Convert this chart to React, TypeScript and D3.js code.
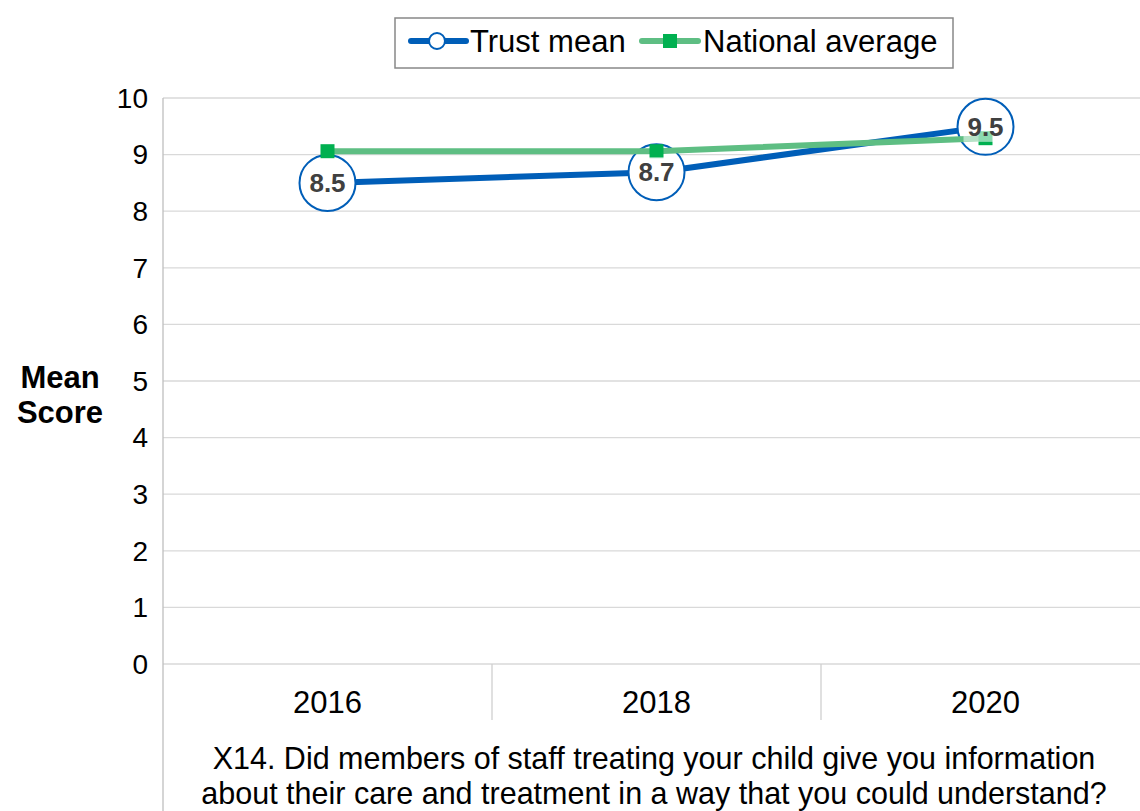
import React from 'react';
import * as d3 from 'd3';

const years = ['2016', '2018', '2020'];
const trustMean = [8.5, 8.69, 9.49];
const trustLabels = ['8.5', '8.7', '9.5'];
const nationalAvg = [9.06, 9.06, 9.29];
const yTicks = [0, 1, 2, 3, 4, 5, 6, 7, 8, 9, 10];
const titleLines = [
  'X14. Did members of staff treating your child give you information',
  'about their care and treatment in a way that you could understand?',
];

const W = 1140;
const H = 811;
const FONT = 'Liberation Sans, Arial, sans-serif';

const App: React.FC = () => {
  const left = 163;
  const right = 1150;
  const top = 98;
  const bottom = 664;

  const x = d3.scaleBand<string>().domain(years).range([left, right]);
  const y = d3.scaleLinear().domain([0, 10]).range([bottom, top]);
  const cx = (i: number) => (x(years[i]) ?? 0) + x.bandwidth() / 2;

  const line = d3.line<number>()
    .x((_, i) => cx(i))
    .y(d => y(d));

  return (
    <svg width={W} height={H} style={{ position: 'absolute', left: 0, top: 0, background: '#fff' }} fontFamily={FONT}>
      {/* gridlines */}
      {yTicks.map(t => (
        <line key={t} x1={left} x2={W} y1={y(t)} y2={y(t)} stroke="#d9d9d9" strokeWidth={1.3} />
      ))}
      {/* left axis line */}
      <line x1={left} x2={left} y1={top} y2={H} stroke="#bfbfbf" strokeWidth={1.3} />
      {/* category separators */}
      {years.slice(1).map(yr => (
        <line key={yr} x1={x(yr)} x2={x(yr)} y1={bottom} y2={720} stroke="#d0d0d0" strokeWidth={1.3} />
      ))}
      {/* y tick labels */}
      {yTicks.map(t => (
        <text key={t} x={148} y={y(t)} dy="0.35em" textAnchor="end" fontSize={28} fill="#000">{t}</text>
      ))}
      {/* x tick labels */}
      {years.map((yr, i) => (
        <text key={yr} x={cx(i)} y={702} dy="0.35em" textAnchor="middle" fontSize={31} fill="#000">{yr}</text>
      ))}
      {/* y axis title */}
      <text x={60} y={377} dy="0.35em" textAnchor="middle" fontSize={31} fontWeight="bold">Mean</text>
      <text x={60} y={412} dy="0.35em" textAnchor="middle" fontSize={31} fontWeight="bold">Score</text>
      {/* x axis title */}
      {titleLines.map((l, i) => (
        <text key={i} x={654} y={758 + i * 35} dy="0.35em" textAnchor="middle" fontSize={30.5}>{l}</text>
      ))}

      {/* trust line */}
      <path d={line(trustMean) ?? ''} fill="none" stroke="#005EB8" strokeWidth={6} />
      {/* trust marker circles (label callouts) */}
      {trustMean.map((v, i) => (
        <circle key={i} cx={cx(i)} cy={y(v)} r={28} fill="#fff" stroke="#005EB8" strokeWidth={2} />
      ))}
      {/* national line */}
      <path d={line(nationalAvg) ?? ''} fill="none" stroke="#5EBE83" strokeWidth={6} />
      {nationalAvg.map((v, i) => (
        <rect key={i} x={cx(i) - 7} y={y(v) - 7} width={14} height={14} fill="#00B050" />
      ))}
      {/* labels */}
      {trustMean.map((v, i) => (
        <g key={i}>
          <rect x={cx(i) - 22} y={y(v) - 15} width={44} height={30} fill="#fff" opacity={0.55} />
          <text x={cx(i)} y={y(v)} dy="0.35em" textAnchor="middle" fontSize={26} fontWeight="bold" fill="#404040">{trustLabels[i]}</text>
        </g>
      ))}

      {/* legend */}
      <rect x={395} y={18} width={558} height={50} fill="#fff" stroke="#888" strokeWidth={1.5} />
      <line x1={411} x2={466} y1={41} y2={41} stroke="#005EB8" strokeWidth={6} strokeLinecap="round" />
      <circle cx={437} cy={41} r={8} fill="#fff" stroke="#005EB8" strokeWidth={2} />
      <text x={470} y={41} dy="0.35em" fontSize={31}>Trust mean</text>
      <line x1={642} x2={698} y1={41} y2={41} stroke="#5EBE83" strokeWidth={6} strokeLinecap="round" />
      <rect x={663} y={34} width={14} height={14} fill="#00B050" />
      <text x={703} y={41} dy="0.35em" fontSize={31}>National average</text>
    </svg>
  );
};

export default App;
